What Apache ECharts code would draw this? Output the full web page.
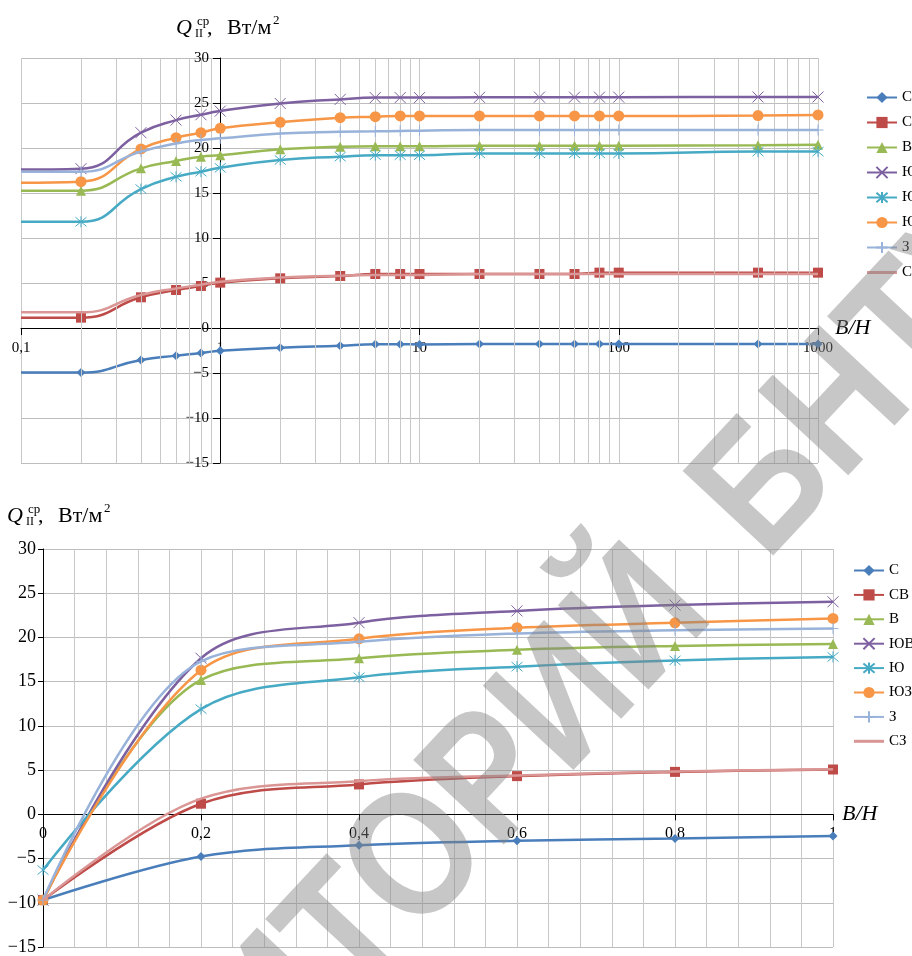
<!DOCTYPE html>
<html>
<head>
<meta charset="utf-8">
<title>Q ср</title>
<script src="https://cdn.jsdelivr.net/npm/echarts@6/dist/echarts.min.js"></script>
<style>
html, body { margin: 0; padding: 0; background: #fff; }
#myCharts { width: 912px; height: 956px; }
</style>
</head>
<body>
<div id="myCharts"></div>
<script>
// стороны света (легенда)
let names = ["С", "СВ", "В", "ЮВ", "Ю", "ЮЗ", "З", "СЗ"];

// верхний график: B/H в логарифмическом масштабе
let xLog = [0.1, 0.2, 0.4, 0.6, 0.8, 1, 2, 4, 6, 8, 10, 20, 40, 60, 80, 100, 500, 1000];
let logC  = [-4.95, -4.95, -3.55, -3.07, -2.78, -2.52, -2.19, -1.96, -1.81, -1.81, -1.82, -1.78, -1.78, -1.78, -1.78, -1.78, -1.78, -1.78];
let logCB = [1.15, 1.15, 3.41, 4.22, 4.67, 5.04, 5.52, 5.78, 6.0, 6.0, 6.0, 6.0, 6.0, 6.0, 6.15, 6.15, 6.15, 6.15];
let logB  = [15.26, 15.26, 17.74, 18.56, 19.04, 19.2, 19.85, 20.15, 20.2, 20.2, 20.2, 20.26, 20.26, 20.26, 20.26, 20.26, 20.3, 20.35];
let logUB = [17.6, 17.7, 21.7, 23.1, 23.7, 24.1, 24.95, 25.4, 25.6, 25.6, 25.6, 25.63, 25.65, 25.65, 25.65, 25.65, 25.67, 25.67];
let logU  = [11.8, 11.8, 15.44, 16.8, 17.37, 17.8, 18.67, 19.04, 19.2, 19.2, 19.2, 19.4, 19.4, 19.4, 19.4, 19.4, 19.6, 19.6];
let logUZ = [16.15, 16.26, 19.9, 21.15, 21.7, 22.19, 22.85, 23.37, 23.48, 23.56, 23.56, 23.56, 23.56, 23.56, 23.56, 23.56, 23.6, 23.67];
let logZ  = [17.37, 17.37, 19.6, 20.5, 20.9, 21.07, 21.6, 21.8, 21.85, 21.9, 21.93, 22.0, 22.0, 22.0, 22.0, 22.0, 22.0, 22.0];
let logCZ = [1.74, 1.74, 3.67, 4.4, 4.8, 5.15, 5.6, 5.8, 5.9, 5.9, 5.9, 6.0, 6.0, 6.0, 6.0, 6.0, 6.0, 6.0];

// нижний график: B/H от 0 до 1
let xLin = [0, 0.2, 0.4, 0.6, 0.8, 1];
let linC  = [-9.7, -4.77, -3.49, -3.0, -2.74, -2.44];
let linCB = [-9.7, 1.2, 3.38, 4.32, 4.8, 5.07];
let linB  = [-9.7, 15.2, 17.65, 18.6, 19.04, 19.27];
let linUB = [-9.7, 17.65, 21.67, 23.0, 23.66, 24.03];
let linU  = [-6.3, 11.9, 15.5, 16.7, 17.4, 17.8];
let linUZ = [-9.7, 16.3, 19.85, 21.1, 21.65, 22.15];
let linZ  = [-9.7, 17.3, 19.5, 20.45, 20.8, 21.0];
let linCZ = [-9.7, 1.77, 3.75, 4.4, 4.85, 5.1];

let logRows = [logC, logCB, logB, logUB, logU, logUZ, logZ, logCZ];
let linRows = [linC, linCB, linB, linUB, linU, linUZ, linZ, linCZ];

let colors = ["#4A7EBB", "#BE4B48", "#98B954", "#7D60A0", "#46AAC5", "#F79646", "#98B2DA", "#DA9694"];
let marks = [
  { symbol: "diamond", size: 9 },
  { symbol: "rect", size: 10 },
  { symbol: "triangle", size: 10 },
  { symbol: "path://M0,0L10,10M10,0L0,10", size: 11, stroke: true },
  { symbol: "path://M0,0L10,10M10,0L0,10M5,-1L5,11", size: 11, stroke: true },
  { symbol: "circle", size: 11 },
  { symbol: "path://M5,0L5,10M0,5L10,5", size: 11, stroke: true },
  { symbol: "none", size: 0 },
];

const serif = '"Liberation Serif", "Times New Roman", serif';

function comma(v) {
  return String(Number(v.toPrecision(6))).replace(".", ",");
}
function minus(v) {
  return v < 0 ? "\u2212" + -v : String(v);
}

function makeSeries(xs, rows, xi, yi, hideFirst, smooth) {
  return names.map(function (n, k) {
    return {
      name: n,
      type: "line",
      xAxisIndex: xi,
      yAxisIndex: yi,
      smooth: smooth,
      symbol: marks[k].symbol,
      symbolSize: marks[k].size,
      data: xs.map(function (x, i) {
        if (hideFirst && i === 0) return { value: [x, rows[k][i]], symbol: "none" };
        return [x, rows[k][i]];
      }),
      lineStyle: { color: colors[k], width: 2.5 },
      itemStyle: {
        color: colors[k],
        borderColor: colors[k],
        borderWidth: marks[k].stroke ? 1 : 0,
      },
      z: 3 + k,
    };
  });
}

// легенда: у СЗ маркера нет, только линия
let legendData = names.map(function (n, k) {
  if (marks[k].symbol === "none") return { name: n, icon: "path://M0,0L30,0L30,3L0,3Z" };
  return n;
});

// тонкие линии сетки логарифмической оси (2..9 в каждой декаде)
let minorLog = [];
[0.1, 1, 10, 100].forEach(function (d) {
  for (let k = 2; k <= 9; k++) minorLog.push({ xAxis: Number((d * k).toPrecision(6)) });
});

function titleGroup(x, y) {
  let t = function (text, dx, dy, font) {
    return { type: "text", x: dx, y: dy, style: { text: text, font: font, fill: "#000", textVerticalAlign: "top", verticalAlign: "top" } };
  };
  return {
    type: "group",
    x: x,
    y: y,
    silent: true,
    children: [
      t("Q", 0, 0, "italic 22px " + serif),
      t("ср", 21, -2, "13px " + serif),
      t("II", 19, 11, "12px " + serif),
      t(",", 31, 0, "22px " + serif),
      t("Вт/м", 51, 0, "22px " + serif),
      t("2", 97, -3, "13px " + serif),
    ],
  };
}

let wmFill = "rgba(130,130,130,0.45)";
let wmFont = 'bold 180px "Liberation Sans", sans-serif';

let labelAxis = {
  axisLine: { show: false, onZero: false },
  axisTick: { show: false },
  splitLine: { show: false },
};

let option = {
  animation: false,
  backgroundColor: "#fff",
  textStyle: { fontFamily: serif },
  grid: [
    { left: 21, right: 94, top: 58, height: 405 },
    { left: 220, right: 94, top: 58, height: 405 },
    { left: 43, right: 79, top: 549, height: 400 },
    { left: 21, right: 94, top: 58, height: 270 },
    { left: 43, right: 79, top: 549, height: 266 },
  ],
  xAxis: [
    {
      gridIndex: 0,
      type: "log",
      logBase: 10,
      min: 0.1,
      max: 1000,
      name: "B/H",
      nameLocation: "end",
      nameGap: 17,
      nameTextStyle: { fontFamily: serif, fontStyle: "italic", fontSize: 22, color: "#000" },
      axisLine: { onZero: true, lineStyle: { color: "#000", width: 1 } },
      axisTick: { show: true, length: 7, lineStyle: { color: "#000" } },
      axisLabel: { show: false },
      splitLine: { show: true, lineStyle: { color: "#C8C8C8", width: 1 } },
    },
    { gridIndex: 1, type: "value", show: false, min: 0, max: 1 },
    {
      gridIndex: 2,
      type: "value",
      min: 0,
      max: 1,
      interval: 0.2,
      name: "B/H",
      nameLocation: "end",
      nameGap: 9,
      nameTextStyle: { fontFamily: serif, fontStyle: "italic", fontSize: 22, color: "#000", padding: [13, 0, 0, 0] },
      axisLine: { onZero: true, lineStyle: { color: "#000", width: 1 } },
      axisTick: { show: true, length: 6, lineStyle: { color: "#000" } },
      axisLabel: { show: false },
      splitLine: { show: true, lineStyle: { color: "#C8C8C8", width: 1 } },
      minorTick: { show: false, splitNumber: 5 },
      minorSplitLine: { show: true, lineStyle: { color: "#C8C8C8", width: 1 } },
    },
    Object.assign({
      gridIndex: 3,
      type: "log",
      logBase: 10,
      min: 0.1,
      max: 1000,
      axisLabel: { margin: 13, fontSize: 15, color: "#000", fontFamily: serif, formatter: comma },
    }, labelAxis),
    Object.assign({
      gridIndex: 4,
      type: "value",
      min: 0,
      max: 1,
      interval: 0.2,
      axisLabel: { margin: 11, fontSize: 16, color: "#000", fontFamily: serif, formatter: comma },
    }, labelAxis),
  ],
  yAxis: [
    {
      gridIndex: 0,
      type: "value",
      min: -15,
      max: 30,
      interval: 5,
      axisLine: { show: false },
      axisTick: { show: false },
      axisLabel: { show: false },
      splitLine: { show: true, lineStyle: { color: "#BDBDBD", width: 1 } },
    },
    {
      gridIndex: 1,
      type: "value",
      min: -15,
      max: 30,
      interval: 5,
      axisLine: { show: true, onZero: false, lineStyle: { color: "#000", width: 1 } },
      axisTick: { show: true, length: 7, lineStyle: { color: "#000" } },
      axisLabel: { margin: 11, fontSize: 15, color: "#000", fontFamily: serif, formatter: minus },
      splitLine: { show: false },
    },
    {
      gridIndex: 2,
      type: "value",
      min: -15,
      max: 30,
      interval: 5,
      axisLine: { show: true, onZero: false, lineStyle: { color: "#000", width: 1 } },
      axisTick: { show: true, length: 5, lineStyle: { color: "#000" } },
      axisLabel: { margin: 7, fontSize: 18, color: "#000", fontFamily: serif, formatter: minus },
      splitLine: { show: true, lineStyle: { color: "#BDBDBD", width: 1 } },
    },
    { gridIndex: 3, type: "value", show: false, min: 0, max: 1 },
    { gridIndex: 4, type: "value", show: false, min: 0, max: 1 },
  ],
  legend: [
    {
      orient: "vertical",
      left: 861,
      top: 85,
      itemWidth: 30,
      itemHeight: 14,
      itemGap: 10,
      textStyle: { fontFamily: serif, fontSize: 15, color: "#000" },
      data: legendData,
    },
    {
      orient: "vertical",
      left: 848,
      top: 558,
      itemWidth: 30,
      itemHeight: 14,
      itemGap: 9.4,
      textStyle: { fontFamily: serif, fontSize: 15, color: "#000" },
      data: legendData,
    },
  ],
  series: [
    {
      name: "minor",
      type: "line",
      xAxisIndex: 0,
      yAxisIndex: 0,
      data: [[1, 0]],
      showSymbol: false,
      lineStyle: { width: 0 },
      silent: true,
      z: 1,
      markLine: {
        silent: true,
        symbol: ["none", "none"],
        label: { show: false },
        lineStyle: { color: "#C8C8C8", width: 1, type: "solid" },
        data: minorLog,
      },
    },
  ]
    .concat(makeSeries(xLog, logRows, 0, 0, true, 0.5))
    .concat(makeSeries(xLin, linRows, 2, 2, false, 0.35)),
  graphic: [
    titleGroup(176, 17),
    titleGroup(7, 505),
    {
      // водяной знак
      type: "group",
      x: 705,
      y: 556,
      rotation: (47 * Math.PI) / 180,
      scaleX: 0.85,
      silent: true,
      z: 100,
      children: [
        { type: "text", x: -43, y: 0, z: 100, style: { text: "РЕПОЗИТОРИЙ", font: wmFont, fill: wmFill, textAlign: "right", align: "right", textVerticalAlign: "middle", verticalAlign: "middle" } },
        { type: "text", x: 43, y: 0, z: 100, style: { text: "БНТУ", font: wmFont, fill: wmFill, textAlign: "left", align: "left", textVerticalAlign: "middle", verticalAlign: "middle" } },
      ],
    },
  ],
};

let myChart = echarts.init(document.getElementById("myCharts"));
myChart.setOption(option);
</script>
</body>
</html>
